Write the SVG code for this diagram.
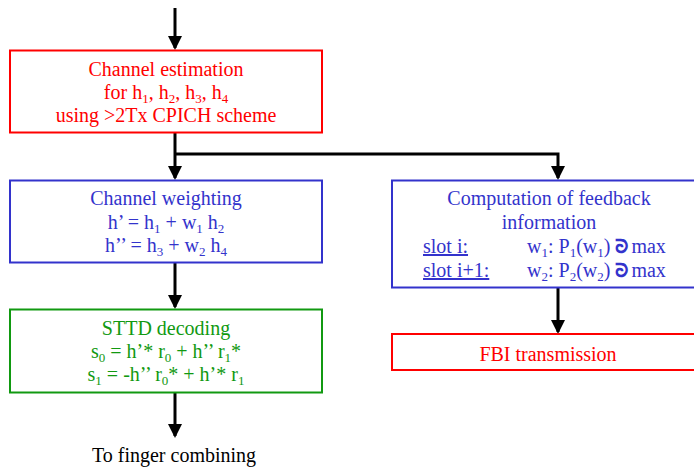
<svg xmlns="http://www.w3.org/2000/svg" width="694" height="470" viewBox="0 0 694 470">
  <style>
    text { font-family: "Liberation Serif", "Times New Roman", serif; font-size: 20px; text-anchor: middle; }
    .red { fill: #ff0000; }
    .blue { fill: #3333cc; }
    .green { fill: #119911; }
    .black { fill: #000000; }
    .sub { font-size: 13px; baseline-shift: -4px; }
    .sym { font-family: "DejaVu Sans", sans-serif; font-size: 19px; font-weight: bold; }
    .box { fill: #ffffff; stroke-width: 2; }
    .wire { stroke: #000000; stroke-width: 3; fill: none; }
    .ul { text-decoration: underline; text-anchor: start; }
    .left { text-anchor: start; }
  </style>
  <defs>
    <marker id="arrow" markerWidth="14" markerHeight="14" refX="12" refY="7" orient="auto" markerUnits="userSpaceOnUse">
      <path d="M0,0 L14,7 L0,14 Z" fill="#000000"/>
    </marker>
  </defs>

  <g id="connectors">
    <path class="wire" d="M175,8 V48" marker-end="url(#arrow)"/>
    <path class="wire" d="M175,132 V178" marker-end="url(#arrow)"/>
    <path class="wire" d="M175,154 H558 V178" marker-end="url(#arrow)"/>
    <path class="wire" d="M175,263 V307" marker-end="url(#arrow)"/>
    <path class="wire" d="M175,393 V436" marker-end="url(#arrow)"/>
    <path class="wire" d="M558,288 V332" marker-end="url(#arrow)"/>
  </g>

  <g id="channel-estimation">
    <rect class="box" x="10" y="50.5" width="312" height="82" stroke="#ff0000"/>
    <text class="red" x="166" y="76">Channel estimation</text>
    <text class="red" x="166" y="99">for h<tspan class="sub">1</tspan>, h<tspan class="sub">2</tspan>, h<tspan class="sub">3</tspan>, h<tspan class="sub">4</tspan></text>
    <text class="red" x="166" y="122">using &gt;2Tx CPICH scheme</text>
  </g>

  <g id="channel-weighting">
    <rect class="box" x="10" y="180.5" width="312" height="82" stroke="#3333cc"/>
    <text class="blue" x="166" y="205">Channel weighting</text>
    <text class="blue" x="166" y="229">h’ = h<tspan class="sub">1</tspan> + w<tspan class="sub">1</tspan> h<tspan class="sub">2</tspan></text>
    <text class="blue" x="166" y="252">h’’ = h<tspan class="sub">3</tspan> + w<tspan class="sub">2</tspan> h<tspan class="sub">4</tspan></text>
  </g>

  <g id="sttd-decoding">
    <rect class="box" x="10" y="309.5" width="312" height="83" stroke="#119911"/>
    <text class="green" x="166" y="335">STTD decoding</text>
    <text class="green" x="166" y="358">s<tspan class="sub">0</tspan> = h’* r<tspan class="sub">0</tspan> + h’’ r<tspan class="sub">1</tspan>*</text>
    <text class="green" x="166" y="381">s<tspan class="sub">1</tspan> = -h’’ r<tspan class="sub">0</tspan>* + h’* r<tspan class="sub">1</tspan></text>
  </g>

  <g id="finger-combining">
    <text class="black" x="174" y="462">To finger combining</text>
  </g>

  <g id="feedback-computation">
    <rect class="box" x="392" y="180.5" width="320" height="107" stroke="#3333cc"/>
    <text class="blue" x="549" y="205">Computation of feedback</text>
    <text class="blue" x="549" y="229">information</text>
    <text class="blue ul" x="423" y="253">slot i:</text>
    <text class="blue left" x="527" y="253">w<tspan class="sub">1</tspan>: P<tspan class="sub">1</tspan>(w<tspan class="sub">1</tspan>) <tspan class="sym">ᘐ</tspan><tspan dx="3">max</tspan></text>
    <text class="blue ul" x="423" y="277">slot i+1:</text>
    <text class="blue left" x="527" y="277">w<tspan class="sub">2</tspan>: P<tspan class="sub">2</tspan>(w<tspan class="sub">2</tspan>) <tspan class="sym">ᘐ</tspan><tspan dx="3">max</tspan></text>
  </g>

  <g id="fbi-transmission">
    <rect class="box" x="392" y="334" width="320" height="36" stroke="#ff0000"/>
    <text class="red" x="548" y="361">FBI transmission</text>
  </g>
</svg>
